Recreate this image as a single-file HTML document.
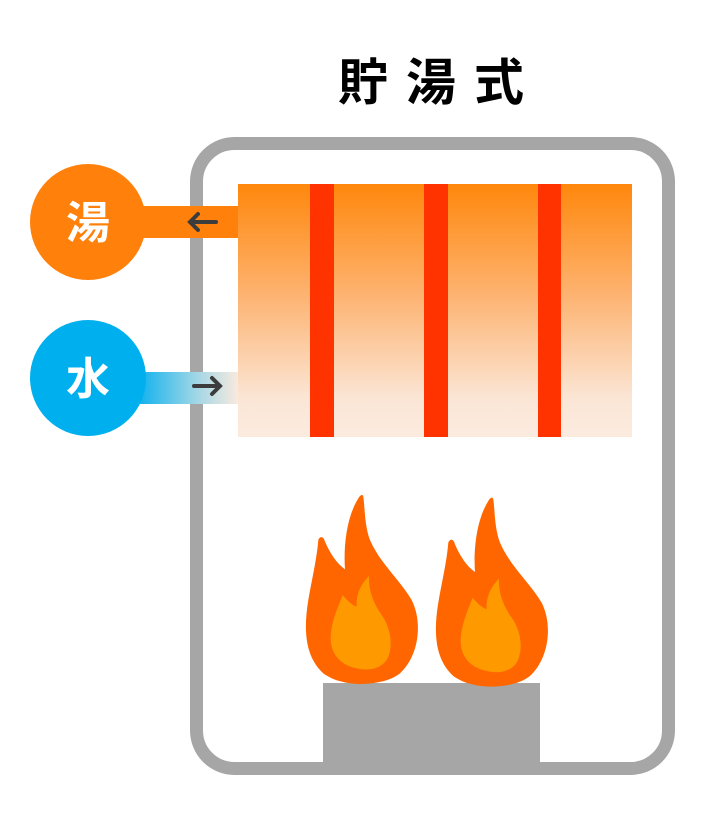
<!DOCTYPE html>
<html><head><meta charset="utf-8"><style>
html,body{margin:0;padding:0;background:#fff;}
svg{display:block;}
</style></head><body>
<svg width="727" height="838" viewBox="0 0 727 838" xmlns="http://www.w3.org/2000/svg">
<defs>
<linearGradient id="tank" x1="0" y1="0" x2="0" y2="1">
<stop offset="0" stop-color="#ff870c"/>
<stop offset="0.45" stop-color="#fdb473"/>
<stop offset="0.85" stop-color="#fbe6d6"/>
<stop offset="1" stop-color="#fbebdf"/>
</linearGradient>
<linearGradient id="bp" x1="0" y1="0" x2="1" y2="0">
<stop offset="0" stop-color="#00adee"/>
<stop offset="0.6" stop-color="#9fd6e6"/>
<stop offset="1" stop-color="#f9eadf"/>
</linearGradient>
</defs>
<text x="440" y="100" text-anchor="middle" font-family="'Liberation Sans','Noto Sans CJK JP',sans-serif" font-size="50" font-weight="bold" letter-spacing="18" fill="#000">貯湯式</text>
<rect x="196.5" y="143.5" width="472" height="625" rx="38" fill="#fff" stroke="#a6a6a6" stroke-width="13"/>
<rect x="323" y="683" width="217" height="80" fill="#a6a6a6"/>
<rect x="238" y="184" width="394" height="253" fill="url(#tank)"/>
<rect x="310" y="184" width="24" height="253" fill="#ff3300"/>
<rect x="424" y="184" width="24" height="253" fill="#ff3300"/>
<rect x="538" y="184" width="23" height="253" fill="#ff3300"/>
<rect x="130" y="206" width="108" height="32" fill="#ff800a"/>
<circle cx="88" cy="222" r="58" fill="#ff800a"/>
<rect x="132" y="372" width="106" height="32" fill="url(#bp)"/>
<circle cx="88" cy="378" r="58" fill="#00b0ee"/>
<text x="88" y="238" text-anchor="middle" font-family="'Liberation Sans','Noto Sans CJK JP',sans-serif" font-size="44" font-weight="bold" fill="#fff">湯</text>
<text x="88" y="394" text-anchor="middle" font-family="'Liberation Sans','Noto Sans CJK JP',sans-serif" font-size="44" font-weight="bold" fill="#fff">水</text>
<g stroke="#3c3c3c" stroke-width="4" stroke-linecap="round" fill="none">
<path d="M216 222 H190 M198 214 L190 222 L198 230"/>
<path d="M194 386 H220 M212 378 L220 386 L212 394"/>
</g>
<g transform="translate(290,480) scale(0.3333)">
<g id="fl">
<path fill="#ff6600" d="M217,45 C225,45 220,130 240,180 C270,250 330,300 365,360 C400,430 385,530 330,580 C280,620 160,625 100,580 C45,530 40,450 55,360 C65,300 80,240 85,180 C88,170 100,165 105,185 C120,220 140,250 165,268 C160,200 170,110 205,55 C210,47 213,45 217,45 Z"/>
<path fill="#ff9900" d="M237,288 C235,330 250,370 275,405 C300,440 310,490 295,530 C280,565 240,575 200,565 C150,555 120,520 122,470 C125,420 145,380 158,345 C170,360 185,375 200,380 C198,340 215,310 237,288 Z"/>
</g>
<use href="#fl" transform="translate(390,8)"/>
</g>
</svg>
</body></html>
